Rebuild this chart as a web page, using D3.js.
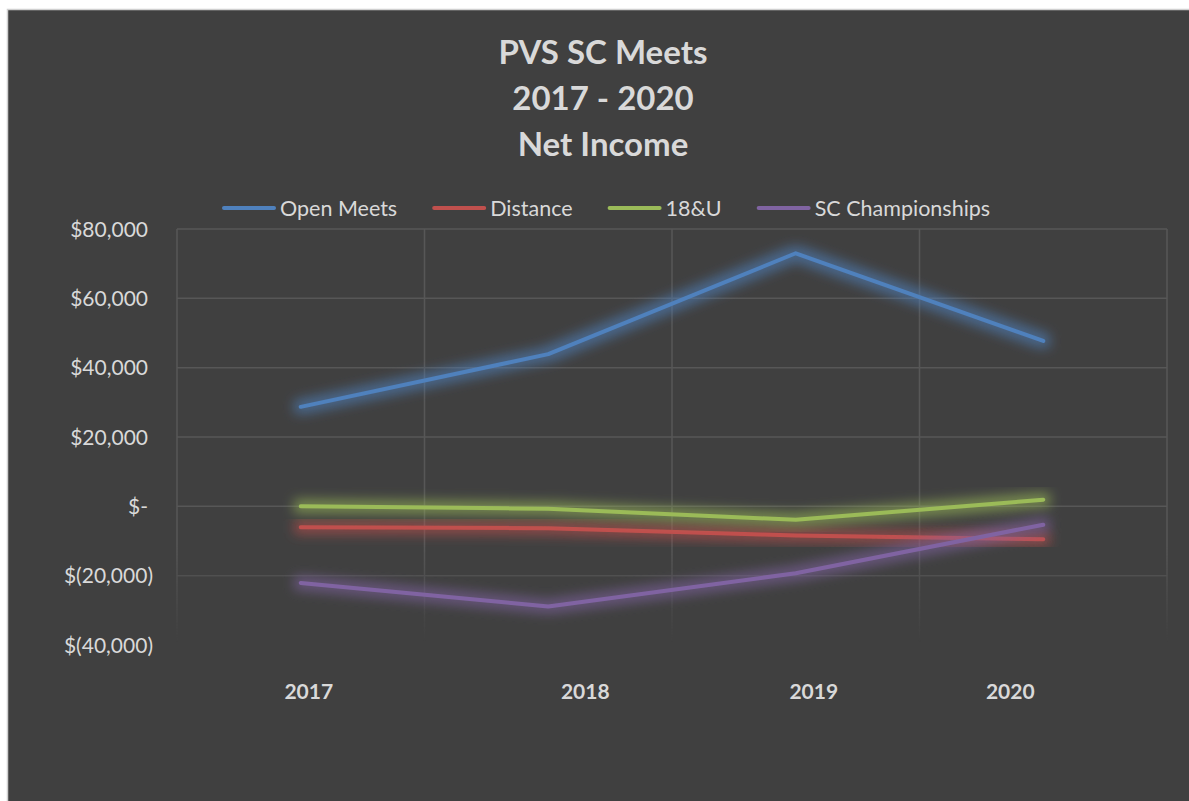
<!DOCTYPE html>
<html>
<head>
<meta charset="utf-8">
<script src="https://cdn.jsdelivr.net/npm/d3@7"></script>
<style>
  body { margin: 0; background: #ffffff; }
  svg { display: block; font-family: Lato, 'Open Sans', sans-serif; }
  .txt { fill: #d9d9d9; }
</style>
</head>
<body>
<svg width="1189" height="801"></svg>
<script>
const years = ['2017', '2018', '2019', '2020'];
const seriesNames = ['Open Meets', 'Distance', '18&U', 'SC Championships'];
const openMeets = [28700, 43900, 73000, 47700];
const distance = [-6000, -6300, -8400, -9500];
const under18 = [0, -700, -3900, 1900];
const scChamps = [-22100, -28900, -19300, -5300];
const yTicks = [80000, 60000, 40000, 20000, 0, -20000, -40000];
const titleLines = ['PVS SC Meets', '2017 - 2020', 'Net Income'];

const colors = ['#4f81bd', '#c0504d', '#9bbb59', '#8064a2'];
const series = [openMeets, distance, under18, scChamps];

const svg = d3.select('svg');
const width = +svg.attr('width');
const height = +svg.attr('height');

const plot = {left: 177, right: 1167, top: 229, bottom: 645};

// chart background with thin frame
svg.append('rect')
    .attr('x', 7.5).attr('y', 9.5)
    .attr('width', width + 20).attr('height', height + 20)
    .attr('fill', '#404040')
    .attr('stroke', '#d0d0d0')
    .attr('stroke-width', 1.5);

const defs = svg.append('defs');

// gridlines fade out toward the bottom
const grad = defs.append('linearGradient')
    .attr('id', 'fade')
    .attr('gradientUnits', 'userSpaceOnUse')
    .attr('x1', 0).attr('x2', 0).attr('y1', 545).attr('y2', 642);
grad.append('stop').attr('offset', 0).attr('stop-color', '#fff');
grad.append('stop').attr('offset', 1).attr('stop-color', '#000');
defs.append('mask').attr('id', 'gridMask')
    .attr('maskUnits', 'userSpaceOnUse')
    .attr('x', 0).attr('y', 0).attr('width', width).attr('height', height)
    .append('rect')
    .attr('x', 0).attr('y', 0).attr('width', width).attr('height', height)
    .attr('fill', 'url(#fade)');

// glow around each line
const glow = defs.append('filter')
    .attr('id', 'glow')
    .attr('x', '-10%').attr('y', '-60%')
    .attr('width', '120%').attr('height', '220%');
glow.append('feMorphology').attr('in', 'SourceGraphic').attr('operator', 'dilate').attr('radius', 5).attr('result', 'fat');
glow.append('feGaussianBlur').attr('in', 'fat').attr('stdDeviation', 6).attr('result', 'blur');
glow.append('feComponentTransfer').attr('in', 'blur').attr('result', 'soft')
    .append('feFuncA').attr('type', 'linear').attr('slope', 0.6);
const merge = glow.append('feMerge');
merge.append('feMergeNode').attr('in', 'soft');
merge.append('feMergeNode').attr('in', 'SourceGraphic');

const xScale = d3.scaleBand()
    .domain(years)
    .range([plot.left, plot.right]);

const yScale = d3.scaleLinear()
    .domain([-40000, 80000])
    .range([plot.bottom, plot.top]);

const xCenter = d => xScale(d) + xScale.bandwidth() / 2;

// grid
const gridG = svg.append('g').attr('mask', 'url(#gridMask)');
gridG.selectAll('line.h')
    .data(yTicks)
    .join('line')
    .attr('class', 'h')
    .attr('x1', plot.left).attr('x2', plot.right)
    .attr('y1', d => yScale(d)).attr('y2', d => yScale(d))
    .attr('stroke', '#575757')
    .attr('stroke-width', 1.5);

const vEdges = years.map(d => xScale(d)).concat([xScale.range()[1]]);
gridG.selectAll('line.v')
    .data(vEdges)
    .join('line')
    .attr('class', 'v')
    .attr('x1', d => d).attr('x2', d => d)
    .attr('y1', plot.top).attr('y2', plot.bottom)
    .attr('stroke', '#575757')
    .attr('stroke-width', 1.5);

// y axis labels, accounting style
const fmt = d3.format(',');
const yLabel = d => d === 0 ? '$-' : d < 0 ? `$(${fmt(-d)})` : `$${fmt(d)}`;
svg.append('g').selectAll('text')
    .data(yTicks)
    .join('text')
    .attr('class', 'txt')
    .attr('x', d => d < 0 ? 153 : 148)
    .attr('y', d => yScale(d))
    .attr('dy', '0.36em')
    .attr('text-anchor', 'end')
    .attr('font-size', 21)
    .text(yLabel);

// x labels (sit a little off the category centres in the original)
const labelNudge = [8, 37, 18, -33];
svg.append('g').selectAll('text')
    .data(years)
    .join('text')
    .attr('class', 'txt')
    .attr('x', (d, i) => xCenter(d) + labelNudge[i])
    .attr('y', 699)
    .attr('text-anchor', 'middle')
    .attr('font-size', 21)
    .attr('font-weight', 'bold')
    .text(d => d);

// lines
const lineGenerator = d3.line()
    .x((d, i) => xCenter(years[i]))
    .y(d => yScale(d));

svg.append('g').selectAll('path')
    .data(series)
    .join('path')
    .attr('d', d => lineGenerator(d))
    .attr('fill', 'none')
    .attr('stroke', (d, i) => colors[i])
    .attr('stroke-width', 4)
    .attr('stroke-linecap', 'round')
    .attr('stroke-linejoin', 'round')
    .attr('filter', 'url(#glow)');

// title
svg.append('g').selectAll('text')
    .data(titleLines)
    .join('text')
    .attr('class', 'txt')
    .attr('x', 603)
    .attr('y', (d, i) => 64 + i * 46)
    .attr('text-anchor', 'middle')
    .attr('font-size', 33)
    .attr('font-weight', 'bold')
    .text(d => d);

// legend
const legendG = svg.append('g').attr('transform', 'translate(222, 208)');
let cursor = 0;
seriesNames.forEach((name, i) => {
    legendG.append('line')
        .attr('x1', cursor + 2).attr('x2', cursor + 52)
        .attr('y1', 0).attr('y2', 0)
        .attr('stroke', colors[i])
        .attr('stroke-width', 4)
        .attr('stroke-linecap', 'round');
    const t = legendG.append('text')
        .attr('class', 'txt')
        .attr('x', cursor + 58)
        .attr('dy', '0.36em')
        .attr('font-size', 21.5)
        .text(name);
    cursor += 58 + t.node().getComputedTextLength() + 35;
});
</script>
</body>
</html>
